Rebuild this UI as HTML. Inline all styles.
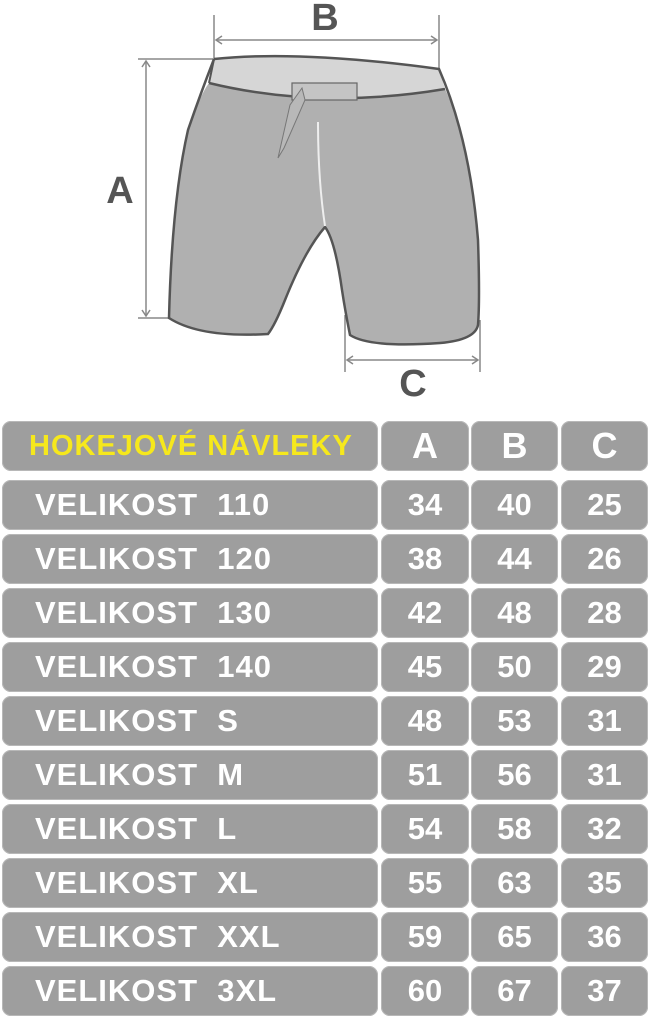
<!DOCTYPE html>
<html><head><meta charset="utf-8"><style>
body{margin:0;width:650px;height:1017px;background:#fff;position:relative;overflow:hidden;font-family:"Liberation Sans",sans-serif}
.c{position:absolute;background:#9e9e9e;border-radius:9px;box-shadow:inset 0 0 0 1px #b8b8b8;color:#fff;font-weight:bold;font-size:31px;line-height:50px;height:50px}
.l{left:2px;width:376px;padding-left:33px;box-sizing:border-box;letter-spacing:1px}
.a{left:381px;width:88px;text-align:center}
.b{left:471px;width:87px;text-align:center}
.cc{left:561px;width:87px;text-align:center}
</style></head><body>
<svg width="650" height="410" style="position:absolute;left:0;top:0">
<g stroke="#888" stroke-width="1.5" fill="none">
<line x1="214" y1="15" x2="214" y2="58"/><line x1="439" y1="15" x2="439" y2="68"/>
<line x1="216" y1="40" x2="437" y2="40"/><path d="M222 36 L216 40 L222 44 M431 36 L437 40 L431 44"/>
<line x1="138" y1="59" x2="214" y2="59"/><line x1="138" y1="318" x2="169" y2="318"/>
<line x1="146" y1="61" x2="146" y2="316"/><path d="M142 67 L146 61 L150 67 M142 310 L146 316 L150 310"/>
<line x1="345" y1="315" x2="345" y2="372"/><line x1="480" y1="320" x2="480" y2="372"/>
<line x1="347" y1="360" x2="478" y2="360"/><path d="M353 356 L347 360 L353 364 M472 356 L478 360 L472 364"/>
</g>
<path d="M214 59 Q300 50 439 69 L445 89 Q320 110 209 83 Z" fill="#d6d6d6"/>
<path d="M209 83 Q320 110 445 89 Q470 140 478 240 Q480 300 478 325 Q475 340 440 343 Q370 348 350 335 Q345 310 342 290 Q335 240 325 227 Q305 250 285 300 Q275 325 268 334 Q200 338 169 318 Q172 200 188 130 Q200 95 209 83 Z" fill="#b0b0b0"/>
<path d="M214 59 Q300 50 439 69 Q470 140 478 240 Q480 300 478 325 Q475 340 440 343 Q370 348 350 335 Q345 310 342 290 Q335 240 325 227 Q305 250 285 300 Q275 325 268 334 Q200 338 169 318 Q172 200 188 130 Q200 95 214 59" fill="none" stroke="#555" stroke-width="2.5"/>
<path d="M209 83 Q320 110 445 89" fill="none" stroke="#555" stroke-width="2.5"/>
<line x1="209" y1="83" x2="214" y2="59" stroke="#555" stroke-width="2"/>
<rect x="292" y="83" width="65" height="17" fill="#c4c4c4" stroke="#666" stroke-width="1.2"/>
<path d="M302 88 L305 100 L284 148 L278 158 L290 105 Z" fill="#b8b8b8" stroke="#777" stroke-width="1"/>
<path d="M318 122 Q318 180 325 226" stroke="#eee" stroke-width="2" fill="none"/>
<text x="325" y="30" font-family="Liberation Sans" font-weight="bold" font-size="38" fill="#555" text-anchor="middle">B</text>
<text x="120" y="203" font-family="Liberation Sans" font-weight="bold" font-size="38" fill="#555" text-anchor="middle">A</text>
<text x="413" y="396" font-family="Liberation Sans" font-weight="bold" font-size="38" fill="#555" text-anchor="middle">C</text>
</svg>
<div class="c l" style="top:421px;color:#f6e81c;font-size:29px;padding-left:27px;letter-spacing:1px">HOKEJOVÉ NÁVLEKY</div>
<div class="c a" style="top:421px;font-size:36px">A</div><div class="c b" style="top:421px;font-size:36px">B</div><div class="c cc" style="top:421px;font-size:36px">C</div>
<div class="c l" style="top:480px">VELIKOST&nbsp; 110</div><div class="c a" style="top:480px">34</div><div class="c b" style="top:480px">40</div><div class="c cc" style="top:480px">25</div>
<div class="c l" style="top:534px">VELIKOST&nbsp; 120</div><div class="c a" style="top:534px">38</div><div class="c b" style="top:534px">44</div><div class="c cc" style="top:534px">26</div>
<div class="c l" style="top:588px">VELIKOST&nbsp; 130</div><div class="c a" style="top:588px">42</div><div class="c b" style="top:588px">48</div><div class="c cc" style="top:588px">28</div>
<div class="c l" style="top:642px">VELIKOST&nbsp; 140</div><div class="c a" style="top:642px">45</div><div class="c b" style="top:642px">50</div><div class="c cc" style="top:642px">29</div>
<div class="c l" style="top:696px">VELIKOST&nbsp; S</div><div class="c a" style="top:696px">48</div><div class="c b" style="top:696px">53</div><div class="c cc" style="top:696px">31</div>
<div class="c l" style="top:750px">VELIKOST&nbsp; M</div><div class="c a" style="top:750px">51</div><div class="c b" style="top:750px">56</div><div class="c cc" style="top:750px">31</div>
<div class="c l" style="top:804px">VELIKOST&nbsp; L</div><div class="c a" style="top:804px">54</div><div class="c b" style="top:804px">58</div><div class="c cc" style="top:804px">32</div>
<div class="c l" style="top:858px">VELIKOST&nbsp; XL</div><div class="c a" style="top:858px">55</div><div class="c b" style="top:858px">63</div><div class="c cc" style="top:858px">35</div>
<div class="c l" style="top:912px">VELIKOST&nbsp; XXL</div><div class="c a" style="top:912px">59</div><div class="c b" style="top:912px">65</div><div class="c cc" style="top:912px">36</div>
<div class="c l" style="top:966px">VELIKOST&nbsp; 3XL</div><div class="c a" style="top:966px">60</div><div class="c b" style="top:966px">67</div><div class="c cc" style="top:966px">37</div>
</body></html>
